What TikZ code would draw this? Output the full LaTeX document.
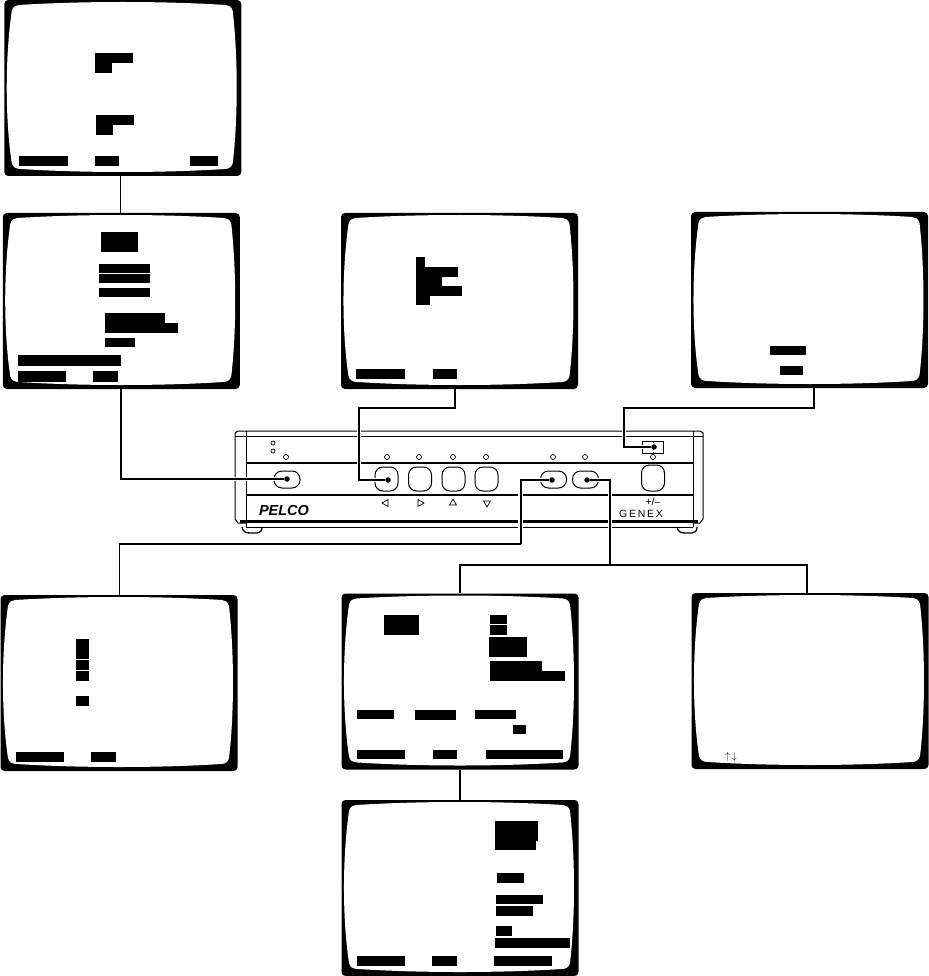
\documentclass[tikz,border=0pt]{standalone}
\usepackage{fontspec}
\setmainfont{Liberation Sans}
\usetikzlibrary{shapes.geometric}

\newcommand{\screen}[1]{%
  \begin{scope}[shift={(#1.center)}]
  \fill[white] (-104,-83)
    .. controls (-40,-87) and (40,-87) .. (103,-83)
    .. controls (106,-83) and (109,-81) .. (110,-77)
    .. controls (115.3,-30) and (115.3,30) .. (110,75)
    .. controls (109,79) and (106,81) .. (102,81)
    .. controls (40,85) and (-40,85) .. (-102,81)
    .. controls (-107,81) and (-110,79) .. (-111,75)
    .. controls (-117.7,30) and (-117.7,-30) .. (-111,-77)
    .. controls (-110,-81) and (-107,-83) .. cycle;
  \end{scope}}

\begin{document}
\begin{tikzpicture}[
    x=1pt, y=-1pt,
    monitor/.style={fill=black, inner sep=0pt, rounded corners=4pt,
                    minimum width=237pt, minimum height=176pt},
    wire/.style={line width=2pt, preaction={draw=white, line width=4.5pt}},
    thinwire/.style={line width=1.4pt},
    rail/.style={line width=#1},
    rail/.default=1pt,
    led/.style={circle, draw, line width=0.7pt, minimum size=5pt, inner sep=0pt},
    wbtn/.style={draw, line width=1pt, inner sep=0pt, rounded corners=8pt,
                 minimum width=26pt, minimum height=17pt},
    sbtn/.style={draw, line width=1pt, inner sep=0pt, rounded corners=8pt,
                 minimum width=23pt, minimum height=24pt},
    dot/.style={circle, fill=black, inner sep=0pt, minimum size=5.5pt},
    tri/.style={regular polygon, regular polygon sides=3, draw, line width=0.7pt,
                inner sep=0pt, minimum size=8pt, shape border rotate=#1},
]

\useasboundingbox (0,0) rectangle (928,976);

% monitors
\node[monitor] (menu) at (122.75,88) {};
\node[monitor] (title) at (121.25,301) {};
\node[monitor] (pattern) at (459.5,301) {};
\node[monitor] (aux) at (809.5,300) {};
\node[monitor] (preset) at (119,683) {};
\node[monitor] (setup) at (460,681.5) {};
\node[monitor] (status) at (810,681) {};
\node[monitor] (system) at (460,888) {};
\foreach \m in {menu, title, pattern, aux, preset, setup, status, system}
  \screen{\m};

% blocks on the screens
\foreach \xa/\ya/\xb/\yb in {95/53/133/63, 95/63/112/73, 96/115/134/125, 96/125/113/135,
    19/156/68/166, 95/156/119/166, 190/156/218/166,
    101/232/138/252, 99/264/150/272.7, 99/274/150/283, 99/288/150/297,
    105/313/165/323, 105/323/178/333, 105/338/135/347,
    18/355/121/366, 18/371/66/382, 93/371/118/382,
    416/257/425/267, 416/267/458/277, 416/277/442/286, 416/286/462/296, 416/296/430/305,
    356/369/405/379, 433/369/457/379,
    770/346/806/355, 780/366/803/375,
    76/639/89/659, 76/660/89/670, 76/671/89/681, 76/696/89/706,
    16/752/64/762, 91/752/116/762,
    384/615/419/635, 490/615/507/624, 490/625/507/635, 489/637/527/657,
    490/661/542/671, 490/671/565/681,
    357/710/394/719, 415/710/456/720, 475/710/516/719, 513/725/526/734,
    357/750/405/759, 433/750/457/759, 486/750/563/759,
    495/821/538/841, 495/841/536/850, 497/873/524/883,
    496/895/543/904, 496/906/533/916, 496/926/512/936, 495/938/570/948,
    357/956/405/966, 432/956/457/966, 494/956/552/966}
  \fill (\xa,\ya) rectangle (\xb,\yb);
\node[font=\bfseries\fontsize{10}{10}\selectfont, inner sep=0pt] (keys) at (731,757) {$\uparrow\,\downarrow$};

% front panel
\draw[rail] (238,431) -- (700,431) -- (703,433) -- (703,519) -- (700,523) -- (693,523)
    (238,431) -- (235,433) -- (235,519) -- (238,523) -- (246,523);
\draw[rail=1.8pt] (235,436.5) -- (703,436.5);
\draw[rail=2.4pt] (246,462.7) -- (693,462.7);
\draw[rail=1.6pt] (246,495) -- (693,495);
\draw[rail=3pt] (240,521) -- (698,521);
\draw[rail] (246,527) -- (693,527);
\draw[rail] (246,431) -- (246,527) (693,431) -- (693,527);
\draw[rail=1.3pt] (242,527) .. controls (243,532) and (246,533) .. (250,533) -- (257,533)
    .. controls (260,533) and (262,531) .. (262,527);
\draw[rail=1.3pt] (677,527) .. controls (678,532) and (681,533) .. (685,533) -- (692,533)
    .. controls (695,533) and (697,531) .. (697,527);

% leds
\node[led, minimum size=4pt] (ledpow) at (273,443) {};
\node[led, minimum size=4pt] (ledact) at (273,451) {};
\foreach \n/\x in {lmenu/286, lleft/387, lright/419, lup/453, ldown/486, lpreset/553, lsetup/585, lsign/653}
  \node[led] (\n) at (\x,457) {};

% buttons
\node[wbtn] (bmenu) at (287,479.5) {};
\node[sbtn] (bleft) at (386.5,479) {};
\node[sbtn] (bright) at (420,479) {};
\node[sbtn] (bup) at (453.5,479) {};
\node[sbtn] (bdown) at (486.5,479) {};
\node[wbtn] (bpreset) at (553.5,479.5) {};
\node[wbtn] (bsetup) at (585.5,479.5) {};
\node[sbtn, minimum height=26pt] (bsign) at (653,478) {};
\node[tri=90] (aleft) at (386,503) {};
\node[tri=-90] (aright) at (420,503) {};
\node[tri=0] (aup) at (453,503) {};
\node[tri=180] (adown) at (487,503) {};

% display window
\node[draw, line width=0.7pt, minimum width=21pt, minimum height=12pt, inner sep=0pt] (disp) at (653,447.5) {};
\draw[line width=0.6pt, dash pattern=on 2pt off 1.5pt] (disp.north) -- (disp.south);

% labels
\node[font=\bfseries\itshape\fontsize{14.5}{14}\selectfont, inner sep=0pt] (pelco) at (284,511) {PELCO};
\node[font=\fontsize{10.5}{10}\selectfont, inner sep=0pt] (sign) at (653,502) {+/--};
\node[font=\fontsize{10.5}{10}\selectfont, inner sep=0pt] (genex) at (641,514) {G\,E\,N\,E\,X};

% connection points
\foreach \n/\x/\y in {dmenu/287/479, dleft/388/480, dpreset/552/480, dsetup/587/480, dsign/654/447}
  \node[dot] (\n) at (\x,\y) {};

% connectors
\draw[thinwire] (menu.south -| 120.5,0) -- (title.north -| 120.5,0);
\draw[thinwire] (setup.south) -- (system.north);
\draw[wire] (title.south -| 120.5,0) |- (dmenu);
\draw[wire] (pattern.south -| 455,0) |- (359,408) |- (dleft);
\draw[wire] (aux.south -| 813.5,0) |- (624,408) |- (dsign);
\draw[wire] (dpreset) -| (520.7,544);
\draw[thinwire] (520.7,544) -| (preset.north -| 119.5,0);
\draw[wire] (dsetup) -| (610,565);
\draw[thinwire] (610,565) -| (setup.north);
\draw[thinwire] (610,565) -| (status.north -| 807,0);

\end{tikzpicture}
\end{document}
